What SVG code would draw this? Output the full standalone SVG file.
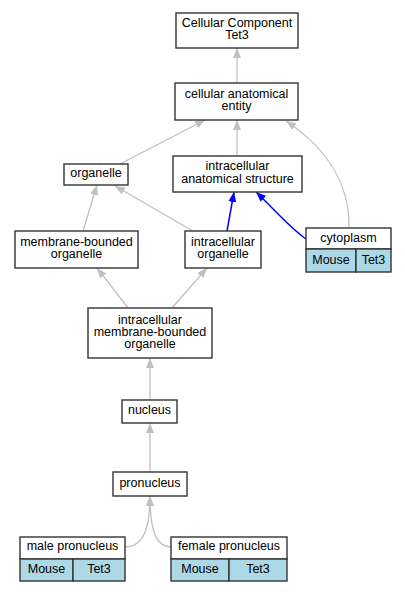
<svg xmlns="http://www.w3.org/2000/svg" width="405" height="592" viewBox="0 0 405 592">
<style>
text{font-family:"Liberation Sans",Arial,sans-serif;font-size:12.5px;fill:#000;text-anchor:middle}
.box{fill:#fff;stroke:#333;stroke-width:1.4}
.cell{fill:#add8e6;stroke:#333;stroke-width:1.4}
.e{fill:none;stroke:#c0c0c0;stroke-width:1.3}
.b{fill:none;stroke:#0000ff;stroke-width:1.5}
</style>
<defs>
<marker id="ag" markerUnits="userSpaceOnUse" markerWidth="11" markerHeight="9" refX="10" refY="4" orient="auto"><path d="M0,0 L10,4 L0,8 z" fill="#c0c0c0"/></marker>
<marker id="ab" markerUnits="userSpaceOnUse" markerWidth="11" markerHeight="9" refX="10" refY="4" orient="auto"><path d="M0,0 L10,4 L0,8 z" fill="#0000ff"/></marker>
</defs>
<g id="edges">
<path class="e" d="M237,83 L237,48" marker-end="url(#ag)"/>
<path class="e" d="M120,164 L205,120" marker-end="url(#ag)"/>
<path class="e" d="M237,156 L237,120" marker-end="url(#ag)"/>
<path class="e" d="M349,228 C350,180 322,145 286,121" marker-end="url(#ag)"/>
<path class="e" d="M83,231 L97,185" marker-end="url(#ag)"/>
<path class="e" d="M193,231 L115,186" marker-end="url(#ag)"/>
<path class="b" d="M227,231 L234,192" marker-end="url(#ab)"/>
<path class="b" d="M306,239 C290,228 270,205 256,192" marker-end="url(#ab)"/>
<path class="e" d="M128,308 L97,268" marker-end="url(#ag)"/>
<path class="e" d="M172,308 L207,268" marker-end="url(#ag)"/>
<path class="e" d="M150,400 L150,358" marker-end="url(#ag)"/>
<path class="e" d="M150,472 L150,423" marker-end="url(#ag)"/>
<path class="e" d="M125,547 C140,547 150,535 150,496" marker-end="url(#ag)"/>
<path class="e" d="M171,547 C158,547 150,535 150,496" marker-end="url(#ag)"/>
</g>
<g id="cc_tet3"><rect class="box" x="176" y="13" width="122" height="35"/><text x="237" y="27">Cellular Component</text><text x="237" y="39">Tet3</text></g>
<g id="cae"><rect class="box" x="175" y="83" width="123" height="37"/><text x="236.5" y="98">cellular anatomical</text><text x="236.5" y="110">entity</text></g>
<g id="ias"><rect class="box" x="173" y="156" width="129" height="36"/><text x="237.5" y="170">intracellular</text><text x="237.5" y="182.5">anatomical structure</text></g>
<g id="organelle"><rect class="box" x="64" y="164" width="64" height="21"/><text x="96" y="177">organelle</text></g>
<g id="mbo"><rect class="box" x="15" y="231" width="123" height="37"/><text x="76.5" y="246">membrane-bounded</text><text x="76.5" y="258">organelle</text></g>
<g id="io"><rect class="box" x="185" y="231" width="76" height="37"/><text x="223" y="246">intracellular</text><text x="223" y="258">organelle</text></g>
<g id="cytoplasm"><rect class="box" x="306" y="228" width="85" height="21"/><text x="348.5" y="242">cytoplasm</text><rect class="cell" x="306" y="249" width="50" height="23"/><text x="331" y="264">Mouse</text><rect class="cell" x="356" y="249" width="35" height="23"/><text x="373.5" y="264">Tet3</text></g>
<g id="imbo"><rect class="box" x="88" y="308" width="124" height="50"/><text x="150" y="324">intracellular</text><text x="150" y="336">membrane-bounded</text><text x="150" y="348">organelle</text></g>
<g id="nucleus"><rect class="box" x="122" y="400" width="55" height="23"/><text x="149.5" y="414">nucleus</text></g>
<g id="pronucleus"><rect class="box" x="113" y="472" width="74" height="24"/><text x="150" y="487">pronucleus</text></g>
<g id="male"><rect class="box" x="20" y="537" width="105" height="22"/><text x="72.5" y="550">male pronucleus</text><rect class="cell" x="20" y="559" width="53" height="22"/><text x="46.5" y="573">Mouse</text><rect class="cell" x="73" y="559" width="52" height="22"/><text x="99" y="573">Tet3</text></g>
<g id="female"><rect class="box" x="171" y="537" width="116" height="22"/><text x="229" y="550">female pronucleus</text><rect class="cell" x="171" y="559" width="58" height="22"/><text x="200" y="573">Mouse</text><rect class="cell" x="229" y="559" width="58" height="22"/><text x="258" y="573">Tet3</text></g>
</svg>
